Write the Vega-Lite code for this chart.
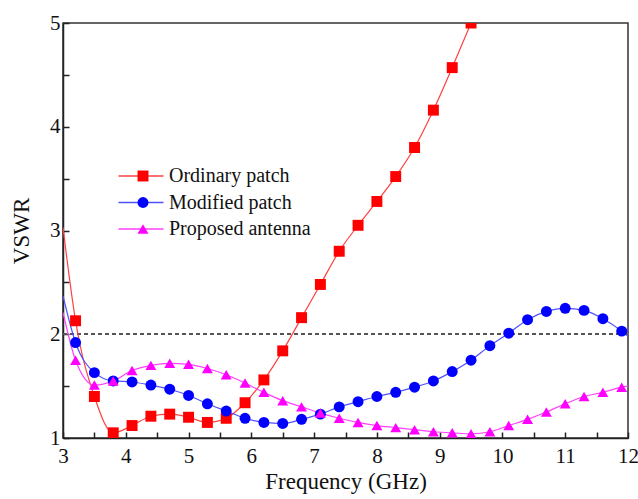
{
  "$schema": "https://vega.github.io/schema/vega-lite/v6.json",
  "width": 565,
  "height": 415,
  "autosize": "none",
  "padding": {"left": 63, "top": 23, "right": 10, "bottom": 61},
  "background": "white",
  "config": {
    "view": {"stroke": "#333", "strokeWidth": 1.5},
    "font": "Liberation Serif",
    "axis": {
      "labelFont": "Liberation Serif",
      "titleFont": "Liberation Serif",
      "labelFontSize": 21,
      "titleFontSize": 23,
      "titleFontWeight": "normal",
      "labelColor": "#111",
      "titleColor": "#111",
      "domainColor": "#222",
      "domainWidth": 1.5,
      "tickColor": "#222",
      "tickWidth": 1.5,
      "tickSize": -6,
      "grid": false
    },
    "legend": {
      "labelFont": "Liberation Serif",
      "labelFontSize": 20,
      "labelColor": "#111"
    }
  },
  "data": {
    "values": [
      {"freq": 3.0, "vswr": 3.03, "series": "Ordinary patch"},
      {"freq": 3.2, "vswr": 2.13, "series": "Ordinary patch"},
      {"freq": 3.5, "vswr": 1.40, "series": "Ordinary patch"},
      {"freq": 3.8, "vswr": 1.05, "series": "Ordinary patch"},
      {"freq": 4.1, "vswr": 1.12, "series": "Ordinary patch"},
      {"freq": 4.4, "vswr": 1.21, "series": "Ordinary patch"},
      {"freq": 4.7, "vswr": 1.23, "series": "Ordinary patch"},
      {"freq": 5.0, "vswr": 1.20, "series": "Ordinary patch"},
      {"freq": 5.3, "vswr": 1.15, "series": "Ordinary patch"},
      {"freq": 5.6, "vswr": 1.19, "series": "Ordinary patch"},
      {"freq": 5.9, "vswr": 1.34, "series": "Ordinary patch"},
      {"freq": 6.2, "vswr": 1.56, "series": "Ordinary patch"},
      {"freq": 6.5, "vswr": 1.84, "series": "Ordinary patch"},
      {"freq": 6.8, "vswr": 2.16, "series": "Ordinary patch"},
      {"freq": 7.1, "vswr": 2.48, "series": "Ordinary patch"},
      {"freq": 7.4, "vswr": 2.80, "series": "Ordinary patch"},
      {"freq": 7.7, "vswr": 3.05, "series": "Ordinary patch"},
      {"freq": 8.0, "vswr": 3.28, "series": "Ordinary patch"},
      {"freq": 8.3, "vswr": 3.52, "series": "Ordinary patch"},
      {"freq": 8.6, "vswr": 3.80, "series": "Ordinary patch"},
      {"freq": 8.9, "vswr": 4.16, "series": "Ordinary patch"},
      {"freq": 9.2, "vswr": 4.57, "series": "Ordinary patch"},
      {"freq": 9.5, "vswr": 5.00, "series": "Ordinary patch"},
      {"freq": 3.0, "vswr": 2.37, "series": "Modified patch"},
      {"freq": 3.2, "vswr": 1.92, "series": "Modified patch"},
      {"freq": 3.5, "vswr": 1.63, "series": "Modified patch"},
      {"freq": 3.8, "vswr": 1.55, "series": "Modified patch"},
      {"freq": 4.1, "vswr": 1.54, "series": "Modified patch"},
      {"freq": 4.4, "vswr": 1.51, "series": "Modified patch"},
      {"freq": 4.7, "vswr": 1.47, "series": "Modified patch"},
      {"freq": 5.0, "vswr": 1.41, "series": "Modified patch"},
      {"freq": 5.3, "vswr": 1.33, "series": "Modified patch"},
      {"freq": 5.6, "vswr": 1.26, "series": "Modified patch"},
      {"freq": 5.9, "vswr": 1.19, "series": "Modified patch"},
      {"freq": 6.2, "vswr": 1.15, "series": "Modified patch"},
      {"freq": 6.5, "vswr": 1.14, "series": "Modified patch"},
      {"freq": 6.8, "vswr": 1.18, "series": "Modified patch"},
      {"freq": 7.1, "vswr": 1.23, "series": "Modified patch"},
      {"freq": 7.4, "vswr": 1.30, "series": "Modified patch"},
      {"freq": 7.7, "vswr": 1.35, "series": "Modified patch"},
      {"freq": 8.0, "vswr": 1.40, "series": "Modified patch"},
      {"freq": 8.3, "vswr": 1.44, "series": "Modified patch"},
      {"freq": 8.6, "vswr": 1.49, "series": "Modified patch"},
      {"freq": 8.9, "vswr": 1.55, "series": "Modified patch"},
      {"freq": 9.2, "vswr": 1.64, "series": "Modified patch"},
      {"freq": 9.5, "vswr": 1.75, "series": "Modified patch"},
      {"freq": 9.8, "vswr": 1.89, "series": "Modified patch"},
      {"freq": 10.1, "vswr": 2.01, "series": "Modified patch"},
      {"freq": 10.4, "vswr": 2.14, "series": "Modified patch"},
      {"freq": 10.7, "vswr": 2.22, "series": "Modified patch"},
      {"freq": 11.0, "vswr": 2.25, "series": "Modified patch"},
      {"freq": 11.3, "vswr": 2.23, "series": "Modified patch"},
      {"freq": 11.6, "vswr": 2.15, "series": "Modified patch"},
      {"freq": 11.9, "vswr": 2.03, "series": "Modified patch"},
      {"freq": 12.0, "vswr": 1.98, "series": "Modified patch"},
      {"freq": 3.0, "vswr": 2.21, "series": "Proposed antenna"},
      {"freq": 3.2, "vswr": 1.75, "series": "Proposed antenna"},
      {"freq": 3.5, "vswr": 1.51, "series": "Proposed antenna"},
      {"freq": 3.8, "vswr": 1.55, "series": "Proposed antenna"},
      {"freq": 4.1, "vswr": 1.65, "series": "Proposed antenna"},
      {"freq": 4.4, "vswr": 1.70, "series": "Proposed antenna"},
      {"freq": 4.7, "vswr": 1.72, "series": "Proposed antenna"},
      {"freq": 5.0, "vswr": 1.71, "series": "Proposed antenna"},
      {"freq": 5.3, "vswr": 1.67, "series": "Proposed antenna"},
      {"freq": 5.6, "vswr": 1.61, "series": "Proposed antenna"},
      {"freq": 5.9, "vswr": 1.53, "series": "Proposed antenna"},
      {"freq": 6.2, "vswr": 1.44, "series": "Proposed antenna"},
      {"freq": 6.5, "vswr": 1.36, "series": "Proposed antenna"},
      {"freq": 6.8, "vswr": 1.30, "series": "Proposed antenna"},
      {"freq": 7.1, "vswr": 1.24, "series": "Proposed antenna"},
      {"freq": 7.4, "vswr": 1.19, "series": "Proposed antenna"},
      {"freq": 7.7, "vswr": 1.15, "series": "Proposed antenna"},
      {"freq": 8.0, "vswr": 1.12, "series": "Proposed antenna"},
      {"freq": 8.3, "vswr": 1.10, "series": "Proposed antenna"},
      {"freq": 8.6, "vswr": 1.08, "series": "Proposed antenna"},
      {"freq": 8.9, "vswr": 1.06, "series": "Proposed antenna"},
      {"freq": 9.2, "vswr": 1.05, "series": "Proposed antenna"},
      {"freq": 9.5, "vswr": 1.04, "series": "Proposed antenna"},
      {"freq": 9.8, "vswr": 1.06, "series": "Proposed antenna"},
      {"freq": 10.1, "vswr": 1.12, "series": "Proposed antenna"},
      {"freq": 10.4, "vswr": 1.18, "series": "Proposed antenna"},
      {"freq": 10.7, "vswr": 1.25, "series": "Proposed antenna"},
      {"freq": 11.0, "vswr": 1.33, "series": "Proposed antenna"},
      {"freq": 11.3, "vswr": 1.40, "series": "Proposed antenna"},
      {"freq": 11.6, "vswr": 1.44, "series": "Proposed antenna"},
      {"freq": 11.9, "vswr": 1.49, "series": "Proposed antenna"},
      {"freq": 12.0, "vswr": 1.50, "series": "Proposed antenna"}
    ]
  },
  "encoding": {
    "x": {
      "field": "freq",
      "type": "quantitative",
      "scale": {"domain": [3, 12], "nice": false},
      "axis": {
        "title": "Frequency (GHz)",
        "values": [3, 3.5, 4, 4.5, 5, 5.5, 6, 6.5, 7, 7.5, 8, 8.5, 9, 9.5, 10, 10.5, 11, 11.5, 12],
        "labelExpr": "datum.value % 1 == 0 ? format(datum.value, 'd') : ''",
        "labelPadding": 13,
        "titlePadding": 4,
        "labelFlush": false
      }
    },
    "y": {
      "field": "vswr",
      "type": "quantitative",
      "scale": {"domain": [1, 5], "nice": false},
      "axis": {
        "title": "VSWR",
        "values": [1, 1.5, 2, 2.5, 3, 3.5, 4, 4.5, 5],
        "labelExpr": "datum.value % 1 == 0 ? format(datum.value, 'd') : ''",
        "labelPadding": 9,
        "titlePadding": 16,
        "labelFlush": false
      }
    }
  },
  "layer": [
    {
      "mark": {"type": "rule", "strokeDash": [4, 3], "color": "#555", "strokeWidth": 1},
      "encoding": {"y": {"datum": 2}, "x": {"datum": 3}, "x2": {"datum": 12}}
    },
    {
      "mark": {"type": "line", "interpolate": "monotone", "strokeWidth": 1.2, "clip": true},
      "encoding": {
        "stroke": {
          "field": "series",
          "type": "nominal",
          "sort": ["Ordinary patch", "Modified patch", "Proposed antenna"],
          "scale": {"range": ["#ff4040", "#5050ff", "#ff40ff"]},
          "legend": {
            "title": null,
            "orient": "none",
            "legendX": 68,
            "legendY": 143,
            "symbolType": "M-3,0H3",
            "symbolSize": 225,
            "symbolStrokeWidth": 1.5,
            "labelOffset": 18,
            "rowPadding": 6.5,
            "padding": 0
          }
        }
      }
    },
    {
      "transform": [{"filter": "datum.freq > 3.05 && datum.freq < 11.95"}],
      "mark": {"type": "point", "filled": true, "opacity": 1, "clip": true},
      "encoding": {
        "fill": {
          "field": "series",
          "type": "nominal",
          "scale": {"domain": ["Ordinary patch", "Modified patch", "Proposed antenna"], "range": ["#ff0000", "#0000ff", "#ff00ff"]},
          "legend": {
            "title": null,
            "orient": "none",
            "legendX": 70,
            "legendY": 143,
            "symbolSize": 120,
            "symbolStrokeWidth": 0,
            "labelExpr": "''",
            "rowPadding": 6.5,
            "padding": 0
          }
        },
        "shape": {
          "field": "series",
          "type": "nominal",
          "scale": {"domain": ["Ordinary patch", "Modified patch", "Proposed antenna"], "range": ["square", "circle", "triangle-up"]},
          "legend": {
            "title": null,
            "orient": "none",
            "legendX": 70,
            "legendY": 143,
            "symbolSize": 120,
            "symbolStrokeWidth": 0,
            "labelExpr": "''",
            "rowPadding": 6.5,
            "padding": 0
          }
        },
        "size": {"value": 120}
      }
    }
  ]
}
